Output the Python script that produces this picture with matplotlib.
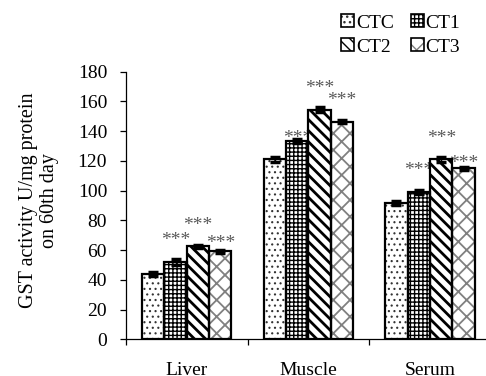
import matplotlib
matplotlib.use("Agg")
import matplotlib.pyplot as plt
from matplotlib.patches import Patch
import numpy as np

categories = ["Liver", "Muscle", "Serum"]
series = ["CTC", "CT1", "CT2", "CT3"]
values = {
    "CTC": [44.0, 121.0, 91.5],
    "CT1": [52.0, 133.5, 99.0],
    "CT2": [62.5, 154.5, 121.0],
    "CT3": [59.3, 146.5, 115.0],
}
errors = {
    "CTC": [1.2, 1.5, 1.2],
    "CT1": [1.8, 1.2, 1.2],
    "CT2": [1.0, 1.8, 1.5],
    "CT3": [1.0, 1.0, 1.2],
}
star_labels = {
    "CT1": ["***", "***", "***"],
    "CT2": ["***", "***", "***"],
    "CT3": ["***", "***", "***"],
}
# vertical placement of the significance labels (data units)
star_y = {
    "CT1": [63.6, 132.1, 110.6],
    "CT2": [73.6, 165.6, 132.1],
    "CT3": [61.6, 157.6, 115.1],
}
yticks = [0, 20, 40, 60, 80, 100, 120, 140, 160, 180]

styles = {
    "CTC": dict(hatch="...", color="#333333", hlw=0.8),
    "CT1": dict(hatch="++++", color="black", hlw=1.0),
    "CT2": dict(hatch="\\\\\\", color="black", hlw=2.0),
    "CT3": dict(hatch="xx", color="#808080", hlw=1.3),
}

plt.rcParams["font.family"] = ["Liberation Serif", "DejaVu Serif"]
fig = plt.figure(figsize=(4.86, 3.76), dpi=100)
ax = fig.add_axes([0.259, 0.0976, 0.751, 0.7117])

w = 0.184
idx = np.arange(len(categories))
handles = {}
for i, s in enumerate(series):
    st = styles[s]
    x = idx + (i - 1.5) * w
    with plt.rc_context({"hatch.linewidth": st["hlw"]}):
        hb = ax.bar(x, values[s], w, color="white", edgecolor=st["color"],
                    hatch=st["hatch"], linewidth=0, zorder=2)
        for p in hb:
            if hasattr(p, "set_hatch_linewidth"):
                p.set_hatch_linewidth(st["hlw"])
        hp = Patch(facecolor="white", edgecolor=st["color"], hatch=st["hatch"], linewidth=0)
        if hasattr(hp, "set_hatch_linewidth"):
            hp.set_hatch_linewidth(st["hlw"])
    ax.bar(x, values[s], w, fill=False, edgecolor="black", linewidth=1.6, zorder=3)
    ax.errorbar(x, values[s], yerr=errors[s], fmt="none", ecolor="black",
                elinewidth=1.0, capsize=3.5, capthick=2.5, zorder=4)
    op = Patch(fill=False, edgecolor="black", linewidth=1.2)
    handles[s] = (hp, op)
    if s in star_labels:
        for j in range(len(categories)):
            ax.text(x[j], star_y[s][j], star_labels[s][j], ha="center", va="baseline",
                    fontsize=14, color="#5a5a5a", zorder=1)

ax.set_xlim(-0.5, 2.5)
ax.set_ylim(0, 180)
ax.set_yticks(yticks)
ax.set_yticklabels([str(t) for t in yticks])
ax.set_xticks([-0.5, 0.5, 1.5, 2.5])
ax.set_xticklabels([])
ax.set_xticks(idx, minor=True)
ax.set_xticklabels(categories, minor=True)
ax.tick_params(axis="x", which="major", direction="out", length=4.5, width=0.9, color="black")
ax.tick_params(axis="x", which="minor", length=0, pad=16, labelsize=14)
ax.tick_params(axis="y", direction="out", length=4.5, width=0.9, pad=9, labelsize=14)
for sp in ["top", "right"]:
    ax.spines[sp].set_visible(False)
for sp in ["left", "bottom"]:
    ax.spines[sp].set_linewidth(0.9)
    ax.spines[sp].set_color("black")

ax.set_ylabel("GST activity U/mg protein\non 60th day", fontsize=14.5, linespacing=1.2)
ax.yaxis.set_label_coords(-0.182, 0.52)

order = ["CTC", "CT2", "CT1", "CT3"]
fig.legend([handles[s] for s in order], order, loc="upper left", bbox_to_anchor=(0.702, 0.962),
           ncol=2, frameon=False, fontsize=14, handlelength=0.65, handleheight=0.65,
           handletextpad=0.1, columnspacing=0.9, labelspacing=0.35, borderpad=0.0,
           borderaxespad=0.0)

fig.savefig("out.png", dpi=100)
